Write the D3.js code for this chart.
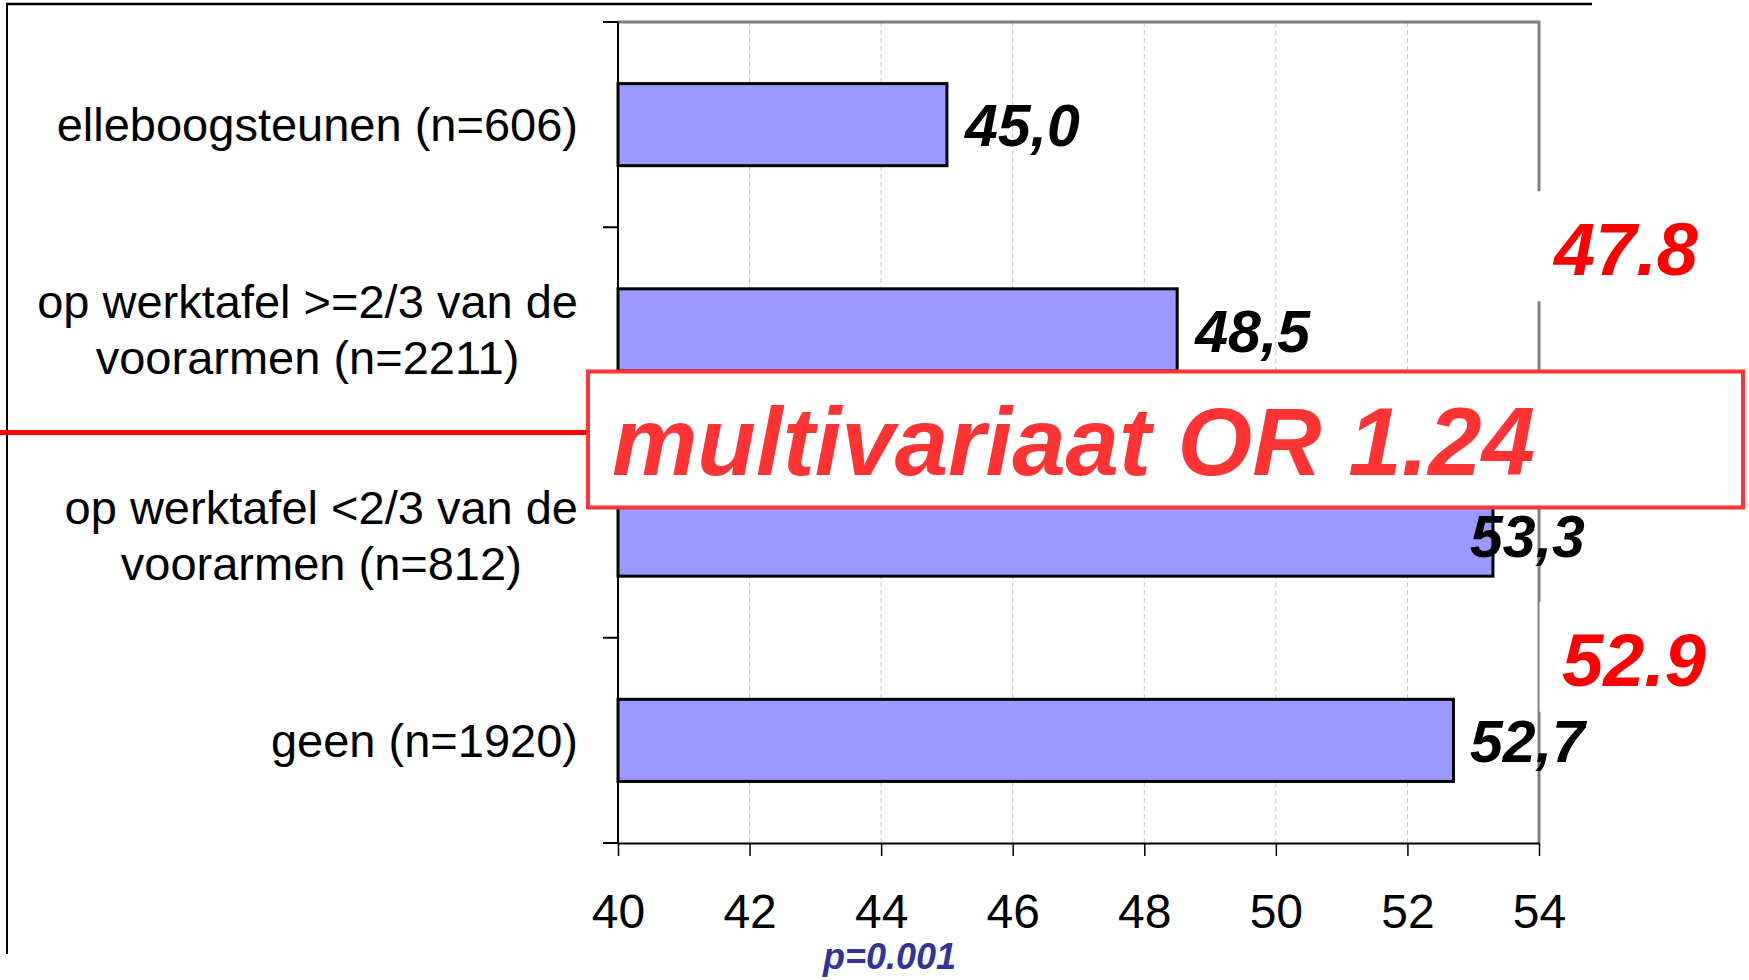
<!DOCTYPE html>
<html>
<head>
<meta charset="utf-8">
<script src="https://cdn.jsdelivr.net/npm/d3@7"></script>
<style>
  body { margin: 0; background: #fff; }
  text { font-family: "Liberation Sans", Arial, sans-serif; }
</style>
</head>
<body>
<div id="chart"></div>
<script>
// chart data
const categories = [
    ["elleboogsteunen (n=606)"],
    ["op werktafel >=2/3 van de", "voorarmen (n=2211)"],
    ["op werktafel <2/3 van de", "voorarmen (n=812)"],
    ["geen (n=1920)"]
];
const values = [45.0, 48.5, 53.3, 52.7];
const valueLabels = ["45,0", "48,5", "53,3", "52,7"];
const xTicks = [40, 42, 44, 46, 48, 50, 52, 54];

// adjusted values, shown after the category with this index
const adjustedLabels = ["47.8", "52.9"];
const adjustedAfter = [0, 2];
const orLabel = "multivariaat OR 1.24";
const pLabel = "p=0.001";

const svgWidth = 1749;
const svgHeight = 980;
const plot = { left: 618, right: 1539, top: 22, bottom: 843 };

const svg = d3.select("#chart")
    .append("svg")
    .attr("width", svgWidth)
    .attr("height", svgHeight);

const xScale = d3.scaleLinear()
    .domain([40, 54])
    .range([plot.left, plot.right]);

const yScale = d3.scaleBand()
    .domain(d3.range(categories.length))
    .range([plot.top, plot.bottom])
    .paddingInner(0.6)
    .paddingOuter(0.3);

// bottom edge of a category's slot
function slotEnd(i) {
    return yScale(i) + yScale.bandwidth() + yScale.step() * 0.3;
}

// outer frame (top and left only)
svg.append("line")
    .attr("x1", 6).attr("x2", 1592)
    .attr("y1", 4).attr("y2", 4)
    .attr("stroke", "#000").attr("stroke-width", 2.5);
svg.append("line")
    .attr("x1", 7).attr("x2", 7)
    .attr("y1", 4).attr("y2", 954)
    .attr("stroke", "#000").attr("stroke-width", 2);

// dashed grid
svg.append("g")
    .selectAll("line")
    .data(xTicks.slice(1, -1))
    .enter()
    .append("line")
    .attr("x1", d => xScale(d)).attr("x2", d => xScale(d))
    .attr("y1", plot.top).attr("y2", plot.bottom)
    .attr("stroke", "#c8c8c8")
    .attr("stroke-width", 1)
    .attr("stroke-dasharray", "5,3");

// plot border top + right
svg.append("path")
    .attr("d", `M${plot.left},${plot.top}H${plot.right}V${plot.bottom}`)
    .attr("fill", "none")
    .attr("stroke", "#808080")
    .attr("stroke-width", 3);

// bars
svg.append("g")
    .selectAll("rect")
    .data(values)
    .enter()
    .append("rect")
    .attr("x", xScale(40))
    .attr("y", (d, i) => yScale(i))
    .attr("width", d => xScale(d) - xScale(40))
    .attr("height", yScale.bandwidth())
    .attr("fill", "#9999ff")
    .attr("stroke", "#000")
    .attr("stroke-width", 3);

// value labels
svg.append("g")
    .selectAll("text")
    .data(values)
    .enter()
    .append("text")
    .attr("x", d => Math.min(xScale(d) + 18, 1470))
    .attr("y", (d, i) => yScale(i) + yScale.bandwidth() / 2)
    .attr("dy", "0.37em")
    .attr("font-size", 59)
    .attr("font-weight", "bold")
    .attr("font-style", "italic")
    .attr("fill", "#000")
    .text((d, i) => valueLabels[i]);

// left axis
const leftAxis = svg.append("g");
leftAxis.append("line")
    .attr("x1", plot.left).attr("x2", plot.left)
    .attr("y1", plot.top).attr("y2", plot.bottom)
    .attr("stroke", "#000").attr("stroke-width", 2);
leftAxis.selectAll("line.tick")
    .data([plot.top].concat(d3.range(categories.length).map(slotEnd)))
    .enter()
    .append("line")
    .attr("class", "tick")
    .attr("x1", plot.left - 15).attr("x2", plot.left)
    .attr("y1", d => d).attr("y2", d => d)
    .attr("stroke", "#000").attr("stroke-width", 2);

// bottom axis
const bottomAxis = d3.axisBottom(xScale)
    .tickValues(xTicks)
    .tickSize(13)
    .tickSizeOuter(0)
    .tickFormat(d3.format("d"));
const xAxis = svg.append("g")
    .attr("transform", `translate(0, ${plot.bottom})`)
    .call(bottomAxis);
xAxis.select(".domain").attr("stroke", "#000").attr("stroke-width", 2);
xAxis.selectAll(".tick line").attr("stroke", "#000").attr("stroke-width", 1.5);
xAxis.selectAll(".tick text")
    .attr("font-family", "'Liberation Sans', Arial, sans-serif")
    .attr("font-size", 48)
    .attr("fill", "#000")
    .attr("dy", "0.71em")
    .attr("y", 51);

// category labels: block right aligned, lines centered inside block
const labelRight = 578;
categories.forEach(function(lines, i) {
    const g = svg.append("g");
    const lineH = 56;
    const cy = yScale(i) + yScale.bandwidth() / 2;
    const texts = lines.map(function(line, j) {
        return g.append("text")
            .attr("y", cy + (j - (lines.length - 1) / 2) * lineH)
            .attr("dy", "0.35em")
            .attr("font-size", 47)
            .attr("fill", "#000")
            .attr("text-anchor", "middle")
            .text(line);
    });
    const maxW = d3.max(texts, t => t.node().getComputedTextLength());
    texts.forEach(t => t.attr("x", labelRight - maxW / 2));
});

// adjusted value labels with white backing over the border
adjustedLabels.forEach(function(label, k) {
    const yb = slotEnd(adjustedAfter[k]);
    svg.append("rect")
        .attr("x", k === 0 ? plot.right - 2 : plot.right + 0.5)
        .attr("y", yb - 36)
        .attr("width", 180)
        .attr("height", 110)
        .attr("fill", "#fff");
    svg.append("text")
        .attr("x", k === 0 ? 1554 : 1562)
        .attr("y", yb + 48)
        .attr("font-size", 74)
        .attr("font-weight", "bold")
        .attr("font-style", "italic")
        .attr("fill", "#ff0000")
        .text(label);
});

// red line and OR box
const midY = slotEnd(1);
svg.append("line")
    .attr("x1", 0).attr("x2", 590)
    .attr("y1", midY).attr("y2", midY)
    .attr("stroke", "#ff0000").attr("stroke-width", 5);
svg.append("rect")
    .attr("x", 588)
    .attr("y", midY - 61)
    .attr("width", 1155)
    .attr("height", 136)
    .attr("fill", "#fff")
    .attr("stroke", "#ff3333")
    .attr("stroke-width", 4);
svg.append("text")
    .attr("x", 612)
    .attr("y", midY + 42)
    .attr("font-size", 96)
    .attr("font-weight", "bold")
    .attr("font-style", "italic")
    .attr("fill", "#ff3333")
    .text(orLabel);

// p value
svg.append("text")
    .attr("x", 823)
    .attr("y", 969)
    .attr("font-size", 36)
    .attr("font-weight", "bold")
    .attr("font-style", "italic")
    .attr("fill", "#333399")
    .text(pLabel);
</script>
</body>
</html>
